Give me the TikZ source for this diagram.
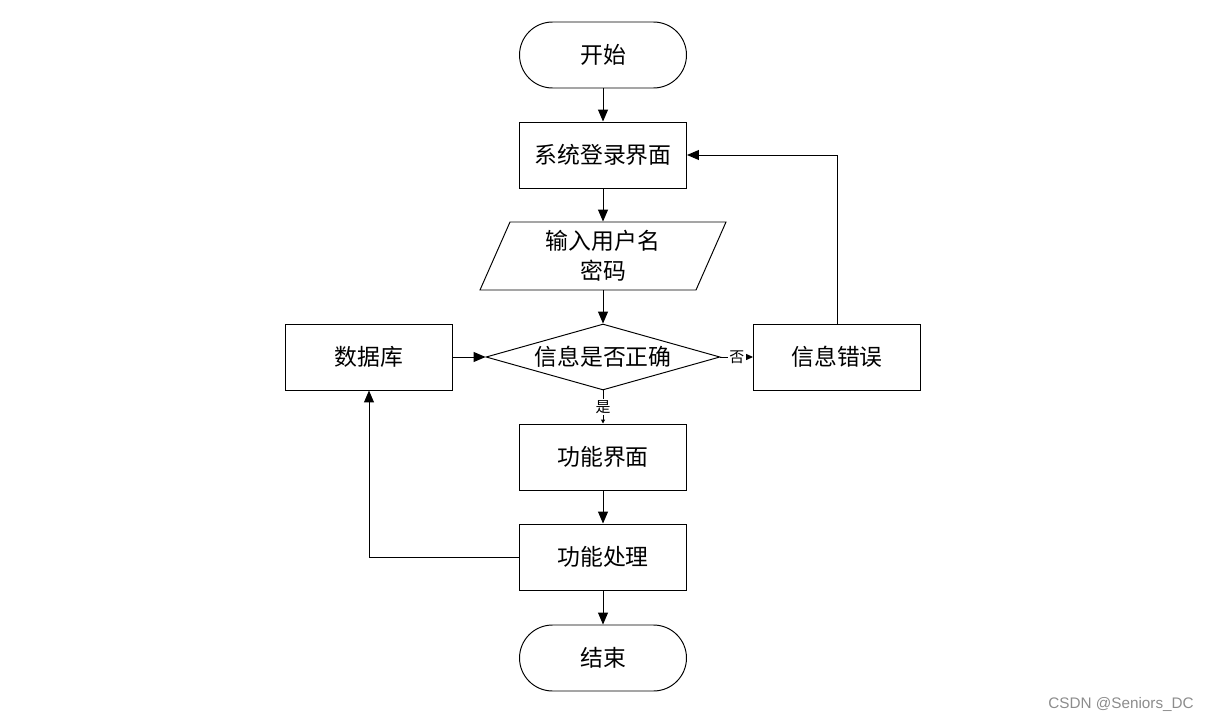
\documentclass[tikz,border=0pt]{standalone}
\usepackage{fontspec}
\setmainfont{Liberation Serif}
\newfontfamily\cjk{Noto Sans CJK SC}
\newfontfamily\marksans{Liberation Sans}
\usetikzlibrary{shapes.geometric,arrows.meta}

\begin{document}
\begin{tikzpicture}[x=0.02cm,y=-0.02cm,line width=0.55pt,
        box/.style={draw,minimum width=3.34cm,minimum height=1.32cm,font=\cjk\fontsize{13}{16}\selectfont},
        term/.style={box,rounded corners=0.66cm},
        flow/.style={-{Triangle[length=0.24cm,width=0.2cm]}},
        tag/.style={fill=white,inner sep=1pt,font=\cjk\fontsize{8.5}{10}\selectfont}]
        \useasboundingbox (0,0) rectangle (1207,720);

        \node[term](start)at(603,55){开始};
        \node[box](login)at(603,155){系统登录界面};
        % parallelogram drawn by hand, node only holds the text
        \draw(510,222)--(726,222)--(696,290)--(480,290)--cycle;
        \node[minimum width=4.32cm,minimum height=1.36cm,inner sep=0,align=center,
              font=\cjk\fontsize{13}{17}\selectfont](inp)at(603,256){输入用户名\\密码};
        \node[draw,diamond,aspect=3.55,inner sep=0,minimum width=4.68cm,minimum height=1.32cm,
              font=\cjk\fontsize{13}{16}\selectfont](check)at(603,357){信息是否正确};
        \node[box](db)at(369,357){数据库};
        \node[box](err)at(837,357){信息错误};
        \node[box](func)at(603,457){功能界面};
        \node[box](proc)at(603,557){功能处理};
        \node[term](stop)at(603,658){结束};

        \draw[flow](start)--(login);
        \draw[flow](login)--(inp);
        \draw[flow](inp)--(check);
        \draw[flow](db)--(check);
        \draw[-{Triangle[length=0.16cm,width=0.14cm]}](check.east)--node[tag]{否}(err.west);
        \draw[-{Triangle[length=0.08cm,width=0.08cm]}](check.south)--node[tag]{是}(func.north);
        \draw[flow](func)--(proc);
        \draw[flow](proc)--(stop);
        \draw[flow](err.north)|-(login.east);
        \draw[flow](proc.west)-|(db.south);

        \node[text=black!45,font=\marksans\fontsize{8.7}{10}\selectfont](mark)at(1121,704){CSDN @Seniors\_DC};
    \end{tikzpicture}
\end{document}
